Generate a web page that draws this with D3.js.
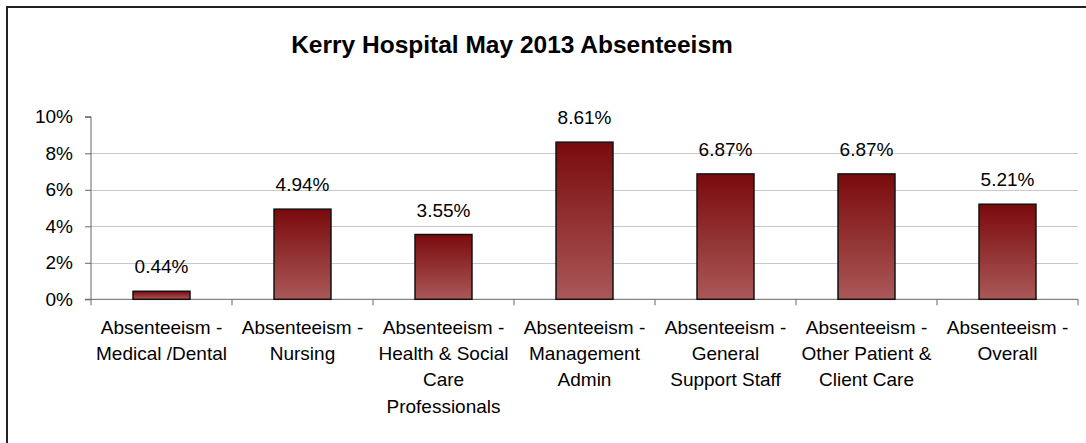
<!DOCTYPE html>
<html>
<head>
<meta charset="utf-8">
<script src="https://cdnjs.cloudflare.com/ajax/libs/d3/7.8.5/d3.min.js"></script>
<style>
  html, body { margin: 0; padding: 0; background: #fff; overflow: hidden; }
  svg text { font-family: "Liberation Sans", Arial, sans-serif; }
</style>
</head>
<body>
<svg id="chart" width="1086" height="443"></svg>
<script>

// chart data
let categories = [
    "Absenteeism - Medical /Dental",
    "Absenteeism - Nursing",
    "Absenteeism - Health & Social Care Professionals",
    "Absenteeism - Management Admin",
    "Absenteeism - General Support Staff",
    "Absenteeism - Other Patient & Client Care",
    "Absenteeism - Overall"
];
let values = [0.44, 4.94, 3.55, 8.61, 6.87, 6.87, 5.21];
let labelLines = [
    ["Absenteeism -", "Medical /Dental"],
    ["Absenteeism -", "Nursing"],
    ["Absenteeism -", "Health & Social", "Care", "Professionals"],
    ["Absenteeism -", "Management", "Admin"],
    ["Absenteeism -", "General", "Support Staff"],
    ["Absenteeism -", "Other Patient &", "Client Care"],
    ["Absenteeism -", "Overall"]
];
let yTicks = [0, 2, 4, 6, 8, 10];
let title = "Kerry Hospital May 2013 Absenteeism";


function draw_chart( doc_id ){

    let svg = d3.select(doc_id);

    let left = 91, right = 1078, top = 116.8, bottom = 299.3;

    let x = d3.scaleBand()
        .domain(categories)
        .range([left, right])
        .paddingInner(0.596)
        .paddingOuter(0.298);

    let y = d3.scaleLinear()
        .domain([0, 10])
        .range([bottom, top]);

    // outer frame (runs off the right and bottom of the picture)
    svg.append("rect")
        .attr("x", 7).attr("y", 7)
        .attr("width", 1200).attr("height", 600)
        .attr("fill", "white")
        .attr("stroke", "#222")
        .attr("stroke-width", 2);

    svg.append("text")
        .attr("x", 512)
        .attr("y", 53)
        .attr("text-anchor", "middle")
        .style("font-size", "24.5px")
        .style("font-weight", "bold")
        .text(title);

    // gridlines
    svg.append("g").selectAll("line")
        .data(yTicks.filter(t => t > 0 && t < 10))
        .enter().append("line")
        .attr("x1", left).attr("x2", right)
        .attr("y1", d => Math.round(y(d)) + 0.5)
        .attr("y2", d => Math.round(y(d)) + 0.5)
        .attr("stroke", "#c8c8c8")
        .attr("stroke-width", 1);

    // y axis
    let yAxis = d3.axisLeft(y)
        .tickValues(yTicks)
        .tickSize(6)
        .tickPadding(12)
        .tickFormat(d => d + "%");
    let gy = svg.append("g")
        .attr("transform", "translate(" + left + ",0)")
        .call(yAxis);
    gy.select(".domain").attr("stroke", "#666").attr("d", "M-6," + top + "H0V" + bottom);
    gy.selectAll(".tick line").attr("stroke", "#666");
    gy.selectAll(".tick text")
        .style("font-size", "19px")
        .attr("fill", "black")
        .attr("font-family", null);

    // x axis line and category boundary ticks
    let gx = svg.append("g");
    gx.append("line")
        .attr("x1", left - 6).attr("x2", right)
        .attr("y1", bottom).attr("y2", bottom)
        .attr("stroke", "#666");
    let bounds = categories.map(c => x(c) + x.bandwidth()/2 - x.step()/2);
    bounds.push(right);
    gx.selectAll(".xt")
        .data(bounds)
        .enter().append("line")
        .attr("x1", d => d).attr("x2", d => d)
        .attr("y1", bottom).attr("y2", bottom + 6)
        .attr("stroke", "#666");

    // gradient for the bars
    let grad = svg.append("defs").append("linearGradient")
        .attr("id", "barGrad")
        .attr("x1", 0).attr("y1", 0).attr("x2", 0).attr("y2", 1);
    grad.append("stop").attr("offset", "0%").attr("stop-color", "#7a0a0c");
    grad.append("stop").attr("offset", "100%").attr("stop-color", "#aa5858");

    svg.append("g").selectAll("rect")
        .data(values)
        .enter().append("rect")
        .attr("x", (d, i) => x(categories[i]))
        .attr("y", d => y(d))
        .attr("width", x.bandwidth())
        .attr("height", d => bottom - y(d))
        .attr("fill", "url(#barGrad)")
        .attr("stroke", "#111")
        .attr("stroke-width", 1.5);

    // value labels
    svg.append("g").selectAll("text")
        .data(values)
        .enter().append("text")
        .attr("x", (d, i) => x(categories[i]) + x.bandwidth()/2)
        .attr("y", d => y(d) - 18)
        .attr("text-anchor", "middle")
        .style("font-size", "19px")
        .text(d => d.toFixed(2) + "%");

    // category labels
    let gl = svg.append("g");
    labelLines.forEach( function(lines, i){
        let cx = x(categories[i]) + x.bandwidth()/2;
        let t = gl.append("text")
            .attr("text-anchor", "middle")
            .style("font-size", "19px");
        lines.forEach( function(s, j){
            t.append("tspan")
                .attr("x", cx)
                .attr("y", 334 + j*26.2)
                .text(s);
        });
    });
}

draw_chart("#chart");

</script>
</body>
</html>
